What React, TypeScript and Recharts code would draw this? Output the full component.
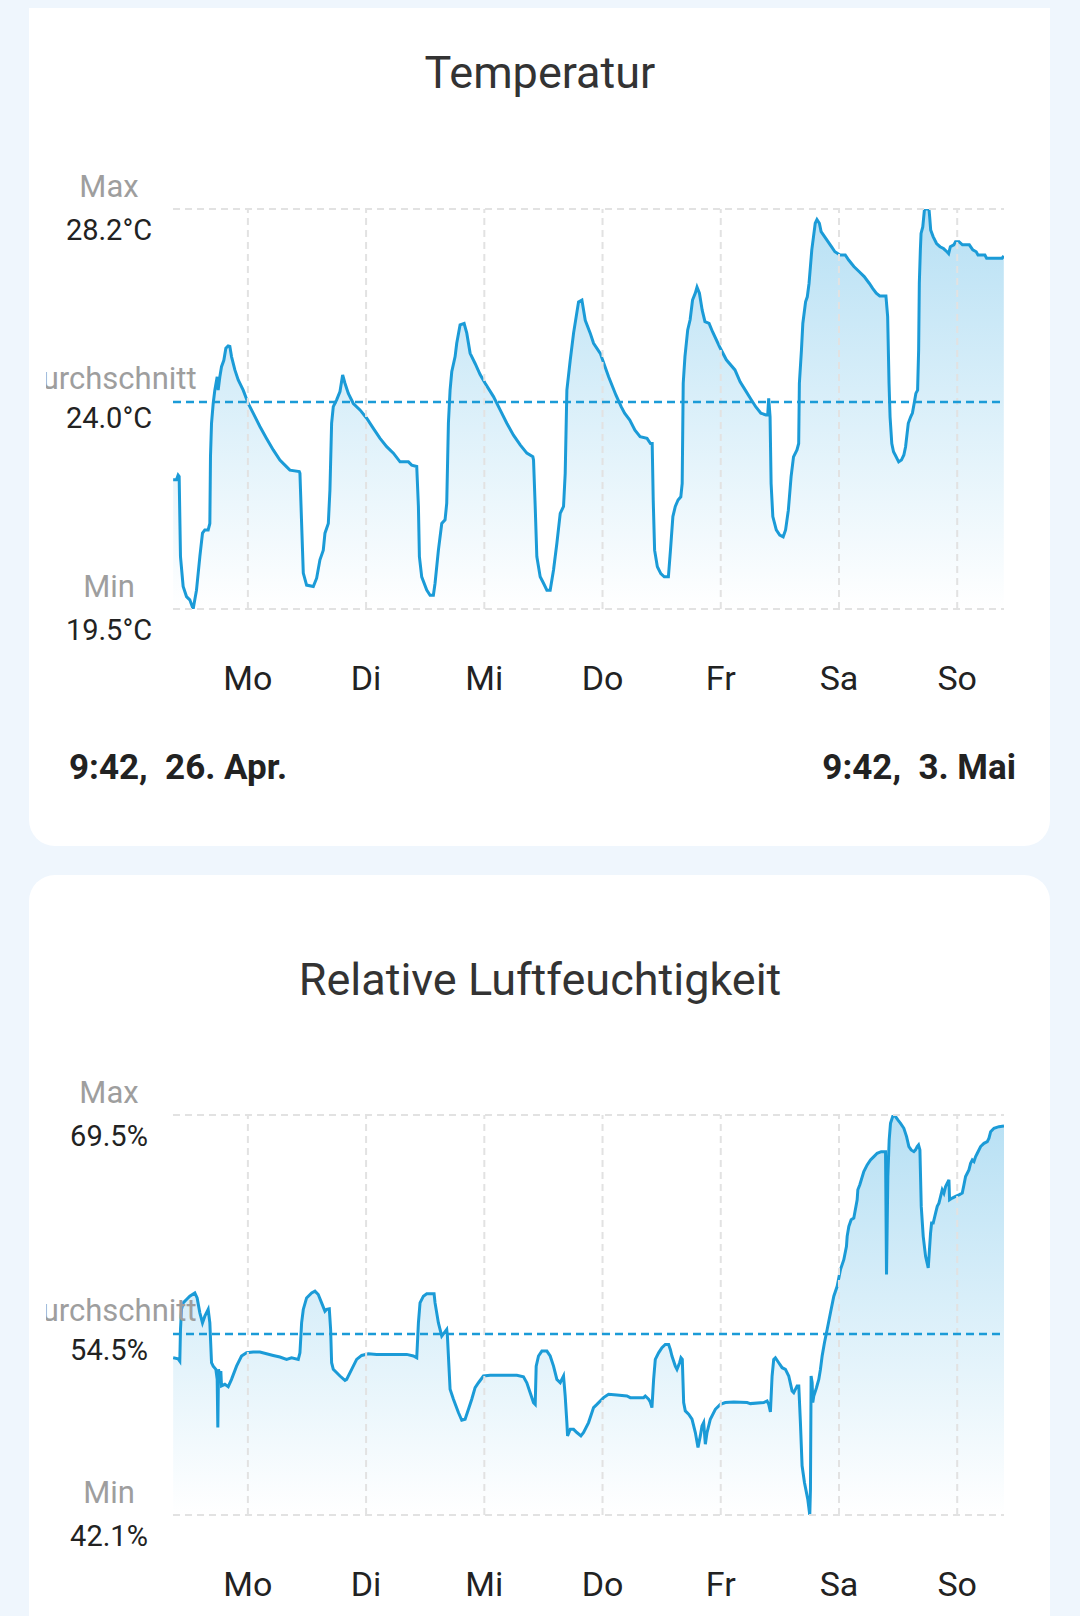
import React from "react";
import { AreaChart, Area, XAxis, YAxis, ReferenceLine } from "recharts";

// x values: hours relative to Monday 00:00 (start 9:42 Sun 26. Apr, end 9:42 Sun 3. Mai)
const dayTicks = [0, 24, 48, 72, 96, 120, 144];
const dayLabels = ["Mo", "Di", "Mi", "Do", "Fr", "Sa", "So"];
const xDomain = [-15.2, 153.5];

const tempTickValues = [19.5, 24.0, 28.2];
const tempTickTexts = ["19.5°C", "24.0°C", "28.2°C"];
const humTickValues = [42.1, 54.5, 69.5];
const humTickTexts = ["42.1%", "54.5%", "69.5%"];
const tickLabels = ["Min", "Durchschnitt", "Max"];

const tempHours = [
  -15.17, -14.5, -14.16, -13.95, -13.68, -13.14, -12.46, -11.79, -11.11, -10.43, -9.75, -9.21, -8.74, -8.06, -7.72,
  -7.59, -7.38, -7.04, -6.71, -6.23, -6.03, -5.69, -5.35, -4.88, -4.47, -4.0, -3.66, -3.32, -2.64, -1.96, -0.95,
  0.07, 1.08, 2.44, 3.79, 5.15, 6.5, 7.52, 8.53, 10.43, 10.57, 10.91, 11.25, 11.92, 13.28, 13.96, 14.63, 15.31,
  15.65, 16.33, 16.66, 17.0, 17.34, 18.02, 18.7, 19.24, 19.71, 20.39, 21.41, 22.76, 24.12, 25.47, 26.83, 28.18,
  29.54, 30.89, 32.59, 33.26, 34.28, 34.62, 34.82, 35.29, 36.31, 36.99, 37.66, 38.0, 38.68, 39.36, 40.03, 40.37,
  40.71, 41.05, 41.39, 42.07, 42.4, 43.08, 43.9, 44.44, 45.12, 46.13, 47.15, 48.17, 49.86, 51.21, 52.57, 53.92,
  55.28, 56.63, 57.85, 57.99, 58.33, 58.66, 59.34, 60.02, 60.7, 61.37, 62.05, 62.73, 63.41, 64.08, 64.42, 64.76,
  65.44, 66.12, 67.13, 67.81, 68.49, 69.5, 70.18, 71.54, 73.23, 74.73, 75.78, 76.48, 77.53, 78.58, 79.63, 81.03,
  81.73, 82.08, 82.29, 82.57, 83.13, 83.83, 84.53, 85.37, 85.79, 86.28, 86.77, 87.33, 87.89, 88.17, 88.38, 88.73,
  89.29, 89.78, 90.27, 90.83, 91.18, 91.67, 92.23, 92.79, 93.63, 94.33, 95.73, 97.13, 98.88, 99.93, 100.98, 102.03,
  103.09, 104.14, 105.18, 105.53, 105.73, 106.01, 106.22, 106.57, 107.27, 107.97, 108.67, 109.16, 109.72, 110.28,
  110.77, 111.47, 111.82, 111.96, 112.38, 112.66, 113.22, 113.57, 113.92, 114.48, 114.83, 115.18, 115.53, 116.02,
  116.37, 117.07, 117.77, 118.47, 119.17, 120.22, 121.27, 121.97, 123.02, 124.07, 125.12, 126.17, 126.87, 127.57,
  128.27, 129.53, 129.88, 130.16, 130.37, 130.72, 131.07, 131.42, 132.12, 132.67, 133.17, 133.52, 134.07, 134.56,
  134.91, 135.26, 135.61, 135.96, 136.17, 136.31, 136.52, 136.66, 137.01, 137.36, 138.27, 138.41, 138.62, 139.11,
  139.81, 140.51, 141.21, 141.91, 142.26, 142.61, 143.31, 143.66, 144.36, 145.06, 146.46, 147.16, 147.86, 148.22,
  149.62, 149.97, 153.11, 153.46,
];
const tempValues = [
  22.31, 22.31, 22.41, 22.38, 20.64, 19.99, 19.77, 19.7, 19.5, 19.91, 20.64, 21.15, 21.22, 21.22, 21.36,
  22.81, 23.54, 23.97, 24.26, 24.55, 24.26, 24.55, 24.77, 24.91, 25.17, 25.22, 25.21, 24.99, 24.7, 24.48, 24.26,
  23.97, 23.76, 23.47, 23.21, 22.96, 22.74, 22.63, 22.52, 22.49, 22.45, 21.36, 20.28, 20.02, 19.99, 20.17, 20.57, 20.78,
  21.15, 21.36, 22.09, 23.54, 23.9, 24.05, 24.23, 24.59, 24.41, 24.19, 23.97, 23.83, 23.65, 23.43, 23.21, 23.03,
  22.89, 22.7, 22.7, 22.63, 22.6, 21.73, 20.64, 20.2, 19.91, 19.8, 19.8, 20.06, 20.78, 21.36, 21.44, 21.8,
  23.54, 24.26, 24.66, 24.99, 25.28, 25.68, 25.71, 25.5, 25.06, 24.84, 24.6, 24.41, 24.12, 23.83, 23.54, 23.28,
  23.07, 22.89, 22.81, 22.74, 21.73, 20.64, 20.2, 20.06, 19.91, 19.91, 20.35, 20.93, 21.58, 21.73, 22.45, 24.26,
  24.91, 25.5, 26.18, 26.22, 25.78, 25.5, 25.28, 25.06, 24.55, 24.15, 23.9, 23.76, 23.61, 23.39, 23.25, 23.21,
  23.1, 23.1, 21.87, 20.78, 20.42, 20.27, 20.2, 20.2, 20.78, 21.51, 21.73, 21.87, 21.94, 22.23, 24.41, 24.99,
  25.57, 25.79, 26.22, 26.37, 26.5, 26.37, 26.0, 25.75, 25.71, 25.53, 25.21, 24.92, 24.7, 24.44, 24.26, 24.08,
  23.9, 23.76, 23.72, 23.72, 24.08, 23.68, 22.23, 21.51, 21.22, 21.11, 21.07, 21.22, 21.65, 22.38,
  22.81, 22.96, 23.1, 24.41, 25.13, 25.71, 26.18, 26.29, 26.58, 27.31, 27.6, 27.89, 27.97, 27.89,
  27.71, 27.6, 27.49, 27.38, 27.27, 27.2, 27.2, 27.09, 26.95, 26.84, 26.73, 26.58, 26.47, 26.37,
  26.31, 26.31, 25.86, 24.41, 23.68, 23.1, 22.92, 22.85, 22.7, 22.74, 22.85, 23.03, 23.54, 23.68,
  23.76, 23.97, 24.19, 24.26, 25.13, 26.58, 27.31, 27.67, 27.81, 28.2, 28.2, 28.03, 27.74, 27.6,
  27.45, 27.38, 27.34, 27.27, 27.23, 27.38, 27.42, 27.49, 27.49, 27.42, 27.42, 27.31, 27.27, 27.2,
  27.2, 27.13, 27.13, 27.18,
];

const humHours = [
  -15.17, -14.16, -13.82, -13.68, -13.48, -13.14, -12.46, -11.79, -10.77, -10.3, -9.75, -9.21, -8.74, -8.06, -7.72,
  -7.38, -7.04, -6.5, -6.23, -6.1, -5.96, -5.69, -5.49, -5.35, -4.67, -3.99, -3.32, -2.3, -1.29, -0.27, 1.08, 2.44,
  3.79, 5.15, 6.5, 7.86, 8.87, 10.23, 10.57, 10.91, 11.25, 11.92, 12.94, 13.62, 14.29, 14.97, 15.65, 15.99, 16.53,
  16.8, 17.0, 17.34, 18.7, 19.71, 20.05, 21.07, 22.08, 23.1, 24.45, 26.15, 29.54, 32.25, 33.6, 34.28, 34.62, 34.95,
  35.63, 36.31, 37.8, 38.0, 38.68, 39.36, 40.37, 40.51, 41.05, 41.73, 42.74, 43.42, 44.1, 44.78, 45.45, 46.13,
  46.81, 47.82, 49.18, 51.89, 54.6, 55.95, 56.63, 57.31, 57.99, 58.33, 58.53, 59.0, 59.68, 60.7, 61.37, 62.05,
  62.73, 63.41, 64.08, 64.42, 64.76, 64.9, 65.44, 66.12, 66.79, 67.61, 68.15, 69.16, 70.18, 70.86, 72.21, 73.22,
  74.92, 76.95, 77.63, 80.34, 80.68, 81.35, 81.69, 82.03, 82.37, 82.71, 83.38, 84.06, 84.74, 85.42, 85.76, 86.09,
  86.77, 87.11, 87.65, 87.92, 88.19, 88.47, 88.8, 89.48, 90.16, 90.84, 91.38, 91.85, 92.19, 92.53, 92.87, 93.21,
  93.88, 94.9, 95.92, 96.93, 98.63, 101.34, 102.01, 104.72, 105.4, 105.74, 106.08, 106.42, 106.75, 107.09, 107.77,
  108.45, 109.13, 109.8, 110.48, 110.82, 111.5, 111.84, 112.17, 112.51, 112.99, 113.66, 114.07, 114.21, 114.34,
  114.55, 114.68, 114.88, 115.43, 115.9, 116.24, 116.58, 117.05, 117.6, 118.27, 118.95, 119.63, 120.3, 120.98,
  121.52, 121.66, 122.0, 122.47, 123.01, 123.69, 123.83, 124.23, 125.04, 125.72, 126.4, 127.08, 127.75, 128.57,
  129.45, 129.65, 129.92, 130.19, 130.46, 131.01, 131.48, 131.95, 132.5, 133.17, 133.72, 134.19, 134.66, 135.21,
  135.54, 135.88, 136.15, 136.43, 136.7, 137.1, 137.58, 138.12, 138.59, 138.8, 139.13, 139.61, 139.95, 140.29,
  140.63, 140.96, 141.3, 141.64, 141.98, 142.32, 142.45, 143.0, 143.67, 144.35, 145.03, 145.37, 145.7, 146.04,
  146.38, 146.72, 147.06, 147.4, 147.74, 148.08, 148.75, 149.43, 150.11, 150.45, 150.79, 151.46, 152.48, 153.5,
];
const humValues = [
  52.87, 52.8, 52.64, 54.81, 56.18, 56.63, 56.86, 57.09, 57.31, 56.97, 55.95, 55.26, 55.72, 56.18, 55.26,
  52.53, 52.3, 52.08, 51.39, 48.09, 52.08, 51.62, 51.96, 50.94, 51.05, 50.89, 51.39, 52.3, 52.99, 53.21, 53.26, 53.26,
  53.15, 53.03, 52.92, 52.76, 52.87, 52.76, 53.21, 55.26, 56.18, 56.97, 57.31, 57.43, 57.2, 56.63, 56.06, 56.18, 56.22,
  54.81, 52.53, 52.08, 51.62, 51.32, 51.39, 52.08, 52.76, 53.03, 53.15, 53.1, 53.1, 53.1, 52.99, 52.87, 55.26, 56.63,
  57.09, 57.25, 57.25, 56.63, 55.26, 54.35, 54.81, 54.35, 50.71, 50.03, 49.12, 48.59, 48.66, 49.34, 50.03, 50.82,
  51.16, 51.62, 51.67, 51.67, 51.67, 51.57, 51.16, 50.48, 49.8, 49.68, 52.3, 52.99, 53.33, 53.33, 52.99, 52.3,
  51.39, 51.16, 51.62, 50.25, 48.43, 47.52, 47.97, 47.97, 47.75, 47.52, 47.75, 48.43, 49.46, 49.68, 50.14, 50.37,
  50.32, 50.25, 50.14, 50.14, 50.25, 50.03, 49.84, 49.46, 51.39, 52.76, 53.21, 53.56, 53.78, 53.78, 53.44, 52.99,
  52.3, 52.08, 52.53, 52.87, 52.76, 49.8, 49.23, 49.0, 48.66, 47.75, 46.72, 47.52, 48.2, 48.43, 46.95, 47.75,
  48.66, 49.34, 49.68, 49.8, 49.84, 49.8, 49.73, 49.8, 49.91, 49.68, 49.16, 51.62, 52.76, 52.87, 52.53,
  52.19, 52.08, 51.62, 50.6, 50.48, 50.94, 50.94, 48.43, 45.47, 44.33, 43.19, 42.1, 43.88, 51.62,
  51.16, 49.8, 50.25, 50.82, 51.39, 52.08, 52.99, 53.9, 54.81, 55.95, 57.09, 57.77, 58.91, 59.59,
  60.5, 61.19, 61.87, 62.33, 62.44, 63.69, 64.38, 64.72, 65.63, 66.08, 66.42, 66.65, 66.88, 66.99,
  66.99, 58.57, 65.29, 67.79, 68.93, 69.5, 69.39, 69.16, 68.93, 68.59, 68.02, 67.34, 67.11, 66.99,
  67.11, 67.34, 67.45, 67.11, 63.24, 61.19, 59.82, 59.02, 61.41, 62.1, 62.1, 62.78, 63.24, 63.46,
  63.92, 64.38, 64.15, 64.6, 64.83, 65.06, 63.69, 63.81, 63.92, 64.03, 64.15, 64.72, 65.29, 65.51,
  65.74, 66.2, 66.42, 66.31, 66.65, 66.88, 67.34, 67.56, 67.68, 67.91, 68.36, 68.59, 68.7, 68.75,
];

const tempData = tempHours.map((h, i) => ({ h, v: tempValues[i] }));
const humData = humHours.map((h, i) => ({ h, v: humValues[i] }));

const LINE = "#1B9BD7";
const GRID = "#E2E2E2";
const FONT = "Roboto, 'Noto Sans', sans-serif";

function makeYTick(values: number[], texts: string[]) {
  return (props: any) => {
    const { y, payload } = props;
    const idx = values.findIndex((v) => Math.abs(v - payload.value) < 1e-6);
    if (idx < 0) return <g />;
    const mid = idx === 1;
    return (
      <g>
        <text x={63} y={y - (mid ? 13 : 12)} textAnchor="middle" fill="#9E9E9E" fontSize={31} fontFamily={FONT}>
          {tickLabels[idx]}
        </text>
        <text x={63} y={y + (mid ? 26 : 31)} textAnchor="middle" fill="#222222" fontSize={29} fontFamily={FONT}>
          {texts[idx]}
        </text>
      </g>
    );
  };
}

const xTick = (props: any) => {
  const { x, y, payload } = props;
  const idx = dayTicks.indexOf(payload.value);
  return (
    <text x={x} y={y + 81} textAnchor="middle" fill="#222222" fontSize={34} fontFamily={FONT}>
      {idx >= 0 ? dayLabels[idx] : ""}
    </text>
  );
};

function Chart(props: {
  data: { h: number; v: number }[];
  yDomain: number[];
  tickValues: number[];
  tickTexts: string[];
  avg: number;
  height: number;
  marginTop: number;
  xAxisHeight: number;
  gradId: string;
}) {
  const { data, yDomain, tickValues, tickTexts, avg, height, marginTop, xAxisHeight, gradId } = props;
  return (
    <AreaChart width={1000} height={height} data={data} margin={{ top: marginTop, right: 42, bottom: 0, left: 0 }}>
      <defs>
        <linearGradient id={gradId} x1="0" y1="0" x2="0" y2="1">
          <stop offset="0%" stopColor="#B7E0F4" stopOpacity={1} />
          <stop offset="100%" stopColor="#FFFFFF" stopOpacity={1} />
        </linearGradient>
      </defs>
      <XAxis
        dataKey="h"
        type="number"
        domain={xDomain}
        ticks={dayTicks}
        interval={0}
        axisLine={false}
        tickLine={false}
        tickSize={0}
        tickMargin={0}
        height={xAxisHeight}
        tick={xTick}
        allowDataOverflow
      />
      <YAxis
        type="number"
        domain={yDomain}
        ticks={tickValues}
        interval={0}
        axisLine={false}
        tickLine={false}
        width={127}
        tick={makeYTick(tickValues, tickTexts)}
        allowDataOverflow
      />
      {dayTicks.map((d) => (
        <ReferenceLine key={"v" + d} x={d} stroke={GRID} strokeWidth={2} strokeDasharray="7 5" />
      ))}
      <ReferenceLine y={yDomain[1]} stroke={GRID} strokeWidth={2} strokeDasharray="7 5" />
      <ReferenceLine y={yDomain[0]} stroke={GRID} strokeWidth={2} strokeDasharray="7 5" />
      <Area
        type="linear"
        dataKey="v"
        stroke={LINE}
        strokeWidth={3}
        fill={`url(#${gradId})`}
        fillOpacity={1}
        dot={false}
        activeDot={false}
        isAnimationActive={false}
      />
      <ReferenceLine y={avg} stroke={LINE} strokeWidth={2.5} strokeDasharray="8 5" />
    </AreaChart>
  );
}

export default function App() {
  const bg = "#EFF6FD";
  return (
    <div style={{ position: "absolute", left: 0, top: 0, width: 1080, height: 1616, background: bg, overflow: "hidden", fontFamily: FONT }}>
      {/* card 1 */}
      <div style={{ position: "absolute", left: 29, top: -40, width: 1021, height: 886, background: "#FFFFFF", borderRadius: 26 }} />
      <div style={{ position: "absolute", left: 0, top: 0, width: 1080, height: 8, background: bg }} />
      {/* card 2 */}
      <div style={{ position: "absolute", left: 29, top: 875, width: 1021, height: 800, background: "#FFFFFF", borderRadius: 26 }} />

      <div style={{ position: "absolute", left: 0, top: 50, width: 1080, textAlign: "center", fontSize: 45, lineHeight: "45px", color: "#333333" }}>
        Temperatur
      </div>
      <div style={{ position: "absolute", left: 46, top: 150 }}>
        <Chart
          data={tempData}
          yDomain={[19.5, 28.2]}
          tickValues={tempTickValues}
          tickTexts={tempTickTexts}
          avg={24.0}
          height={570}
          marginTop={59}
          xAxisHeight={111}
          gradId="gradTemp"
        />
      </div>
      <div style={{ position: "absolute", left: 69, top: 750, fontSize: 35, lineHeight: "35px", fontWeight: 700, color: "#222222", whiteSpace: "pre" }}>
        {"9:42,  26. Apr."}
      </div>
      <div style={{ position: "absolute", right: 1080 - 1016, top: 750, fontSize: 35, lineHeight: "35px", fontWeight: 700, color: "#222222", whiteSpace: "pre" }}>
        {"9:42,  3. Mai"}
      </div>

      <div style={{ position: "absolute", left: 0, top: 957, width: 1080, textAlign: "center", fontSize: 45, lineHeight: "45px", color: "#333333" }}>
        Relative Luftfeuchtigkeit
      </div>
      <div style={{ position: "absolute", left: 46, top: 1050 }}>
        <Chart
          data={humData}
          yDomain={[42.1, 69.5]}
          tickValues={humTickValues}
          tickTexts={humTickTexts}
          avg={54.5}
          height={565}
          marginTop={65}
          xAxisHeight={100}
          gradId="gradHum"
        />
      </div>
    </div>
  );
}
